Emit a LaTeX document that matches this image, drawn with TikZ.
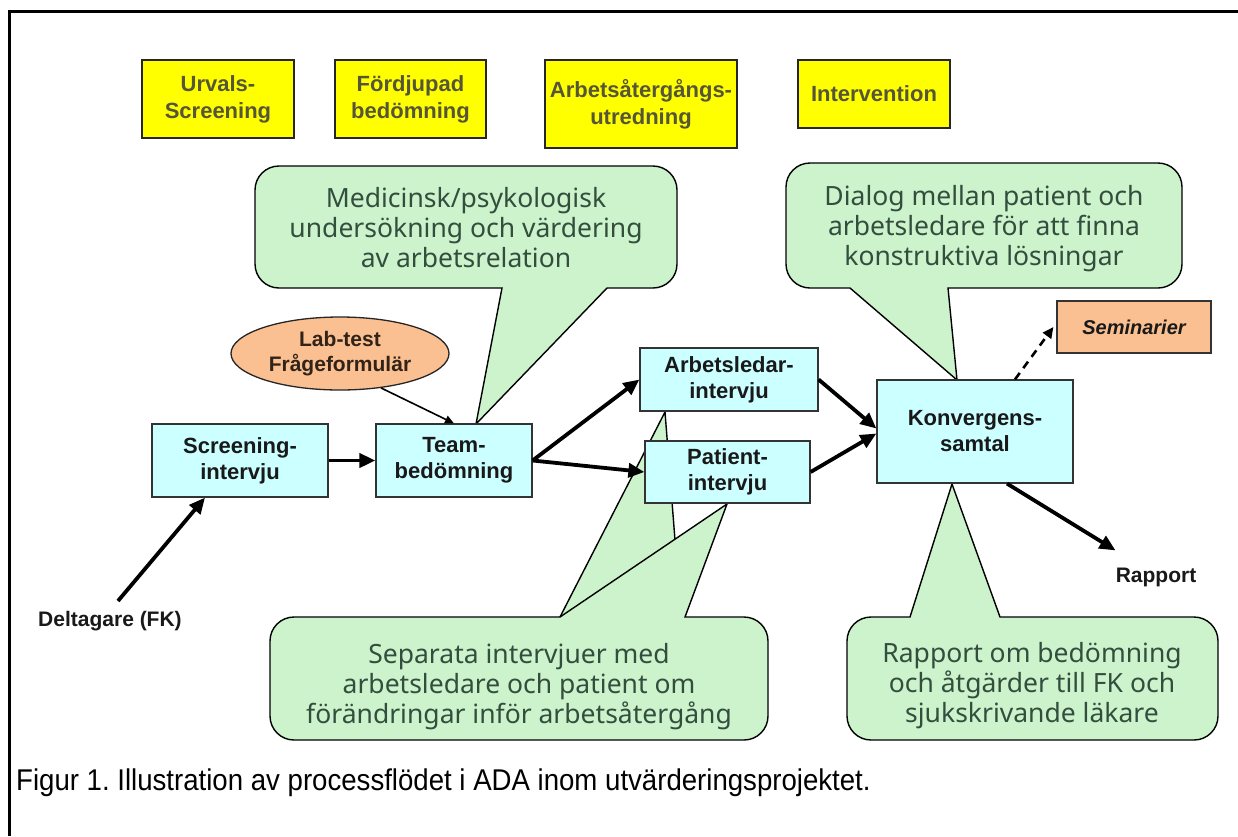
\documentclass[tikz,border=0pt]{standalone}
\usepackage{fontspec}
\setmainfont{Liberation Sans}
\newfontfamily\callfont{Noto Sans}
\newfontfamily\capfont{Liberation Sans}[FakeStretch=0.92]
\usetikzlibrary{arrows.meta,shapes.geometric}
\frenchspacing
\definecolor{ylw}{RGB}{255,255,0}
\definecolor{ylwtxt}{RGB}{85,85,55}
\definecolor{cyanbox}{RGB}{204,255,255}
\definecolor{greenfill}{RGB}{204,243,204}
\definecolor{greentxt}{RGB}{52,78,62}
\definecolor{orangefill}{RGB}{250,192,145}
\definecolor{ellipsetxt}{RGB}{50,35,25}
\begin{document}
\begin{tikzpicture}[x=1pt,y=-1pt,
  phase/.style={draw=black!85,line width=1.3pt,fill=ylw,text=ylwtxt,
    font=\fontsize{22}{27}\selectfont\bfseries,align=center,inner sep=0pt},
  proc/.style={draw=black!80,line width=1.2pt,fill=cyanbox,text=black!90,
    font=\fontsize{22}{26}\selectfont\bfseries,align=center,inner sep=0pt},
  callout/.style={draw=black,line width=1.4pt,fill=greenfill},
  calltext/.style={text=greentxt,font=\callfont\fontsize{26.5}{30}\selectfont,align=center,inner sep=0pt},
  flow/.style={line width=3.8pt,-{Triangle[length=16pt,width=14pt]}},
  thinflow/.style={line width=1.6pt,-{Triangle[length=9pt,width=8pt]}},
  dashflow/.style={line width=2.6pt,dash pattern=on 8pt off 6pt,-{Triangle[length=11pt,width=10pt]}},
  lbl/.style={text=black!90,font=\fontsize{21}{25}\selectfont\bfseries,inner sep=0pt}]
\useasboundingbox (0,0) rectangle (1238,836);
\fill[white] (0,0) rectangle (1238,836);
% frame
\draw[line width=3pt] (9.5,836) -- (9.5,11.5) -- (1238,11.5);

% phase boxes
\node[phase,minimum width=152pt,minimum height=78pt] (p1) at (218,99) {Urvals-\\Screening};
\node[phase,minimum width=151pt,minimum height=78pt] (p2) at (410.5,99) {Fördjupad\\bedömning};
\node[phase,minimum width=192pt,minimum height=88pt] (p3) at (641,104) {Arbetsåtergångs-\\utredning};
\node[phase,minimum width=152pt,minimum height=68pt] (p4) at (874,94) {Intervention};

% callout top left
\draw[callout] (279,166) -- (653,166) arc[start angle=90,end angle=0,radius=24pt]
  -- (677,264) arc[start angle=0,end angle=-90,radius=24pt]
  -- (607,288) -- (476,424) -- (502,288) -- (279,288)
  arc[start angle=-90,end angle=-180,radius=24pt] -- (255,190)
  arc[start angle=180,end angle=90,radius=24pt] -- cycle;
\node[calltext] (c1) at (466,228) {Medicinsk/psykologisk\\undersökning och värdering\\av arbetsrelation};

% callout top right
\draw[callout] (810,163) -- (1158,163) arc[start angle=90,end angle=0,radius=24pt]
  -- (1182,264) arc[start angle=0,end angle=-90,radius=24pt]
  -- (948,288) -- (957,380) -- (850,288) -- (810,288)
  arc[start angle=-90,end angle=-180,radius=24pt] -- (786,187)
  arc[start angle=180,end angle=90,radius=24pt] -- cycle;
\node[calltext] (c2) at (984,229) {Dialog mellan patient och\\arbetsledare för att finna\\konstruktiva lösningar};

% callout bottom left (two tails)
\draw[callout] (560,617) -- (665,412) -- (681,617);
\draw[callout] (294,617) -- (560,617) -- (727,504) -- (685,617) -- (744,617)
  arc[start angle=90,end angle=0,radius=24pt] -- (768,716)
  arc[start angle=0,end angle=-90,radius=24pt] -- (294,740)
  arc[start angle=-90,end angle=-180,radius=24pt] -- (270,641)
  arc[start angle=180,end angle=90,radius=24pt] -- cycle;
\node[calltext] (c3) at (519,687) {Separata intervjuer med\\arbetsledare och patient om\\förändringar inför arbetsåtergång};

% callout bottom right
\draw[callout] (871,617) -- (910,617) -- (952,484) -- (1000,617) -- (1194,617)
  arc[start angle=90,end angle=0,radius=24pt] -- (1218,716)
  arc[start angle=0,end angle=-90,radius=24pt] -- (871,740)
  arc[start angle=-90,end angle=-180,radius=24pt] -- (847,641)
  arc[start angle=180,end angle=90,radius=24pt] -- cycle;
\node[calltext] (c4) at (1032,686) {Rapport om bedömning\\och åtgärder till FK och\\sjukskrivande läkare};

% ellipse
\node[ellipse,draw=black!85,line width=1.3pt,fill=orangefill,minimum width=218pt,minimum height=73pt,
  inner sep=0pt,align=center,text=ellipsetxt,font=\fontsize{21}{25}\selectfont\bfseries] (ell) at (340,353.5) {Lab-test\\Frågeformulär};

% process boxes
\node[proc,minimum width=176pt,minimum height=73pt] (screen) at (240,460.5) {Screening-\\intervju};
\node[proc,minimum width=156pt,minimum height=73pt] (team) at (454,460.5) {Team-\\bedömning};
\node[proc,minimum width=178pt,minimum height=63pt] (arb) at (729,379.5) {Arbetsledar-\\intervju};
\node[proc,minimum width=165pt,minimum height=62pt] (pat) at (727.5,472) {Patient-\\intervju};
\node[proc,minimum width=196pt,minimum height=103pt] (konv) at (975,431.5) {Konvergens-\\samtal};
\node[draw=black!80,line width=1.2pt,fill=orangefill,minimum width=154pt,minimum height=52pt,inner sep=0pt,
  text=black!90,font=\fontsize{20}{24}\selectfont\bfseries\itshape] (sem) at (1134,327) {Seminarier};

% labels
\node[lbl] (delt) at (110,621) {Deltagare (FK)};
\node[lbl] (rap) at (1156,577) {Rapport};

% connectors
\draw[flow] ([xshift=8pt,yshift=10pt]delt.north) -- ([xshift=-35pt]screen.south);
\draw[flow] (screen.east) -- (team.west);
\draw[thinflow] (ell.-40) -- (team.north);
\draw[flow] (team.east) -- (arb.west);
\draw[flow] (team.east) -- (pat.west);
\draw[flow] (arb.east) -- ([yshift=3pt]konv.west);
\draw[flow] (pat.east) -- ([yshift=-2pt]konv.west);
\draw[flow] ([xshift=32pt]konv.south) -- ([yshift=17pt]rap.north west);
\draw[dashflow] ([xshift=40pt]konv.north) -- ([xshift=-3pt]sem.west);

% caption
\node[anchor=west,inner sep=0pt,font=\capfont\fontsize{30}{34}\selectfont] (cap) at (16,783)
  {Figur 1. Illustration av processflödet i ADA inom utvärderingsprojektet.};
\end{tikzpicture}
\end{document}
